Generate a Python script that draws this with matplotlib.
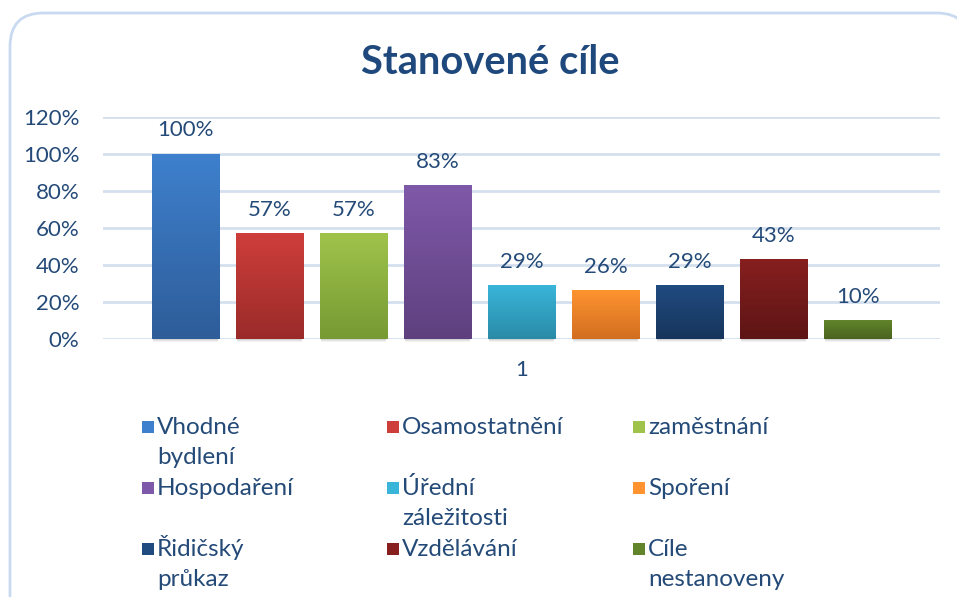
# Stanovené cíle - bar chart

import numpy as np
import matplotlib.pyplot as plt
from matplotlib.colors import LinearSegmentedColormap
from matplotlib.patches import FancyBboxPatch, Rectangle

plt.rcParams['font.family'] = ['Lato', 'DejaVu Sans']

# Data
labels = ['Vhodné\nbydlení', 'Osamostatnění', 'zaměstnání',
          'Hospodaření', 'Úřední\nzáležitosti', 'Spoření',
          'Řidičský\nprůkaz', 'Vzdělávání', 'Cíle\nnestanoveny']
values = [100, 57, 57, 83, 29, 26, 29, 43, 10]
# (top colour, bottom colour) of each bar gradient
colors = [('#3E80CD', '#2E5D99'), ('#CE3E3B', '#9A2B29'), ('#9FC34A', '#779A34'),
          ('#7F59A9', '#5E407E'), ('#39B5D9', '#2A8BA7'), ('#FE932F', '#D26E20'),
          ('#204B80', '#17355C'), ('#871F1F', '#5D1515'), ('#62842B', '#4A6420')]
text_col = '#244A78'
grid_col = '#D5E0EF'
fs = 17.5      # legend text
fs_num = 16    # numbers (ticks, data labels)

W, H = 957, 597
fig = plt.figure(figsize=(W / 100, H / 100), dpi=100)

# rounded chart frame
frame = FancyBboxPatch((10 / W, -40 / H), 960 / W, (H - 13 + 40) / H,
                       boxstyle='round,pad=0,rounding_size=0.035',
                       transform=fig.transFigure, facecolor='white',
                       edgecolor='#C9DAF0', linewidth=2, mutation_aspect=W / H,
                       zorder=-5)
fig.patches.append(frame)

ax = fig.add_axes([103 / W, (H - 339) / H, (940 - 103) / W, (339 - 117) / H])
ax.set_facecolor('none')
ax.set_zorder(2)

x = np.arange(len(values)) - (len(values) - 1) / 2
y = np.array(values) / 100
bars = ax.bar(x, y, width=0.8, color='none', zorder=3)

for bar, (top, bottom), v in zip(bars, colors, values):
    bx, bw, bh = bar.get_x(), bar.get_width(), bar.get_height()
    cmap = LinearSegmentedColormap.from_list('g', [bottom, top])
    grad = np.linspace(0, 1, 100).reshape(-1, 1)
    ax.imshow(grad, extent=[bx, bx + bw, 0, bh], origin='lower', aspect='auto',
              cmap=cmap, zorder=3)
    # soft shadow below the bar
    for i, a in enumerate([0.35, 0.2, 0.1]):
        ax.add_patch(Rectangle((bx + 0.01, -0.006 * (i + 1)), bw - 0.02, 0.006,
                               facecolor='#808080', alpha=a, edgecolor='none',
                               zorder=2, clip_on=False))
    ax.annotate(f'{v}%', (bar.get_x() + bw / 2, bh), xytext=(0, 17),
                textcoords='offset points', ha='center', va='center',
                fontsize=fs_num, color=text_col)

ax.set_xlim(-4.98, 4.98)
ax.set_ylim(0, 1.2)
ticks = np.arange(0, 1.21, 0.2)
ax.set_yticks(ticks)
ax.set_yticklabels([f'{int(round(t * 100))}%' for t in ticks])
ax.set_xticks([0])
ax.set_xticklabels(['1'])
ax.tick_params(axis='both', length=0, labelsize=fs_num, labelcolor=text_col)
ax.tick_params(axis='y', pad=17)
ax.tick_params(axis='x', pad=15)
ax.grid(axis='y', color=grid_col, linewidth=2, zorder=0)
for s in ax.spines.values():
    s.set_visible(False)

fig.text(490 / W, 1 - 62 / H, 'Stanovené cíle', ha='center', va='center',
         fontsize=28.7, fontweight='bold', color='#1F497D')

# legend: 3 columns, marker aligned with first line
col_x = [142, 387, 633]
row_base = [434, 495, 556]
for i, (lab, (top, bottom)) in enumerate(zip(labels, colors)):
    cx, base = col_x[i % 3], row_base[i // 3]
    fig.patches.append(Rectangle((cx / W, (H - base + 1) / H), 12 / W, 12 / H,
                                 transform=fig.transFigure, facecolor=top,
                                 edgecolor='none'))
    for j, line in enumerate(lab.split('\n')):
        fig.text((cx + 15) / W, 1 - (base + 30 * j) / H, line, ha='left',
                 va='baseline', fontsize=fs, color=text_col)

fig.savefig('out.png', dpi=100)
